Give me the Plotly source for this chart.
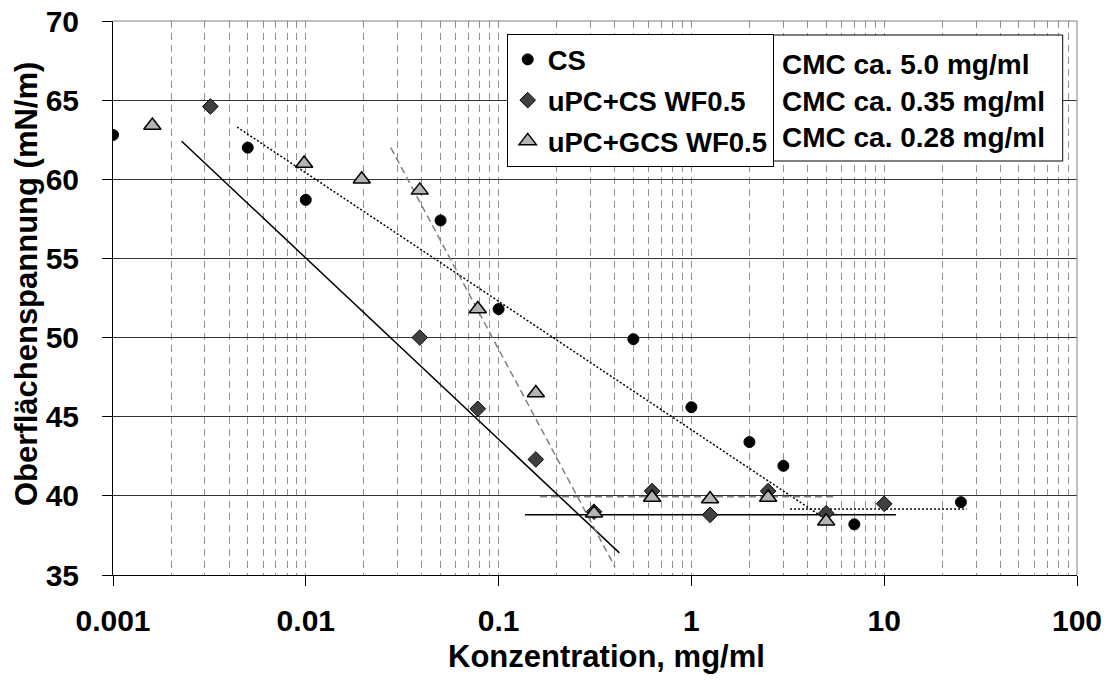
import plotly.graph_objects as go

# ---------------- data ----------------
cs_x = [0.001, 0.005, 0.01, 0.05, 0.1, 0.5, 1, 2, 3, 7, 25]
cs_y = [62.8, 62.0, 58.7, 57.4, 51.8, 49.9, 45.6, 43.4, 41.9, 38.2, 39.6]

upc_cs_x = [0.0032, 0.039, 0.078, 0.156, 0.3125, 0.625, 1.25, 2.5, 5, 10]
upc_cs_y = [64.6, 50.0, 45.5, 42.3, 39.0, 40.3, 38.8, 40.3, 38.9, 39.5]

upc_gcs_x = [0.0016, 0.0098, 0.0195, 0.039, 0.078, 0.156, 0.3125, 0.625, 1.25, 2.5, 5]
upc_gcs_y = [63.4, 61.0, 60.0, 59.3, 51.8, 46.5, 38.9, 39.9, 39.8, 39.9, 38.4]

# trend lines (fit endpoints, data units)
cs_fit_x = [0.0044, 5.45]
cs_fit_y = [63.3, 38.2]
cs_plateau_x = [3.25, 26.8]
cs_plateau_y = [39.17, 39.17]

upc_cs_fit_x = [0.00227, 0.423]
upc_cs_fit_y = [62.4, 36.4]
upc_cs_plateau_x = [0.137, 11.5]
upc_cs_plateau_y = [38.8, 38.8]

upc_gcs_fit_x = [0.0276, 0.402]
upc_gcs_fit_y = [62.0, 35.5]
upc_gcs_plateau_x = [0.164, 5.68]
upc_gcs_plateau_y = [39.95, 39.95]

series_names = ["CS", "uPC+CS WF0.5", "uPC+GCS WF0.5"]
cmc_labels = ["CMC ca. 5.0 mg/ml", "CMC ca. 0.35 mg/ml", "CMC ca. 0.28 mg/ml"]

x_major = [0.001, 0.01, 0.1, 1, 10, 100]
x_major_text = ["0.001", "0.01", "0.1", "1", "10", "100"]
x_minor = [m * d for d in [0.001, 0.01, 0.1, 1, 10] for m in range(1, 10)] + [100]
y_ticks = [35, 40, 45, 50, 55, 60, 65, 70]

x_title = "Konzentration, mg/ml"
y_title = "Oberflächenspannung (mN/m)"

# ---------------- figure ----------------
OFF = 0  # page body margin removed via post_script
W, H = 1108, 682
ML, MR, MT, MB = 113, 31, 21, 107
PW, PH = W - ML - MR, H - MT - MB

def px(xp):
    """screen x (pixels) -> paper x"""
    return (xp - OFF - ML) / PW

def py(yp):
    """screen y (pixels) -> paper y"""
    return (OFF + H - MB - yp) / PH

FONT = "Liberation Sans, Arial, sans-serif"

fig = go.Figure()

# trend lines
line_specs = [
    (cs_fit_x, cs_fit_y, dict(color="black", width=1.5, dash="2px,2px")),
    (cs_plateau_x, cs_plateau_y, dict(color="black", width=1.5, dash="2px,2px")),
    (upc_cs_fit_x, upc_cs_fit_y, dict(color="black", width=1.5)),
    (upc_cs_plateau_x, upc_cs_plateau_y, dict(color="black", width=1.5)),
    (upc_gcs_fit_x, upc_gcs_fit_y, dict(color="#808080", width=1.5, dash="7px,4px")),
    (upc_gcs_plateau_x, upc_gcs_plateau_y, dict(color="#808080", width=1.5, dash="7px,4px")),
]
for lx, ly, ls in line_specs:
    fig.add_trace(go.Scatter(x=lx, y=ly, mode="lines", line=ls,
                             showlegend=False, hoverinfo="skip"))

fig.add_trace(go.Scatter(
    x=cs_x, y=cs_y, mode="markers", name=series_names[0], legendgroup="a",
    marker=dict(symbol="circle", size=11, color="black",
                line=dict(color="black", width=1))))
fig.add_trace(go.Scatter(
    x=upc_cs_x, y=upc_cs_y, mode="markers", name=series_names[1], legendgroup="b",
    marker=dict(symbol="diamond", size=12, color="#404040",
                line=dict(color="black", width=1))))
fig.add_trace(go.Scatter(
    x=upc_gcs_x, y=upc_gcs_y, mode="markers", name=series_names[2], legendgroup="c",
    marker=dict(symbol="triangle-up", size=15, color="#b4b4b4",
                line=dict(color="black", width=1.5))))

# CMC box
fig.add_shape(type="rect", xref="paper", yref="paper",
              x0=px(770.7), x1=px(1062.7), y0=py(161), y1=py(35),
              line=dict(color="black", width=1), fillcolor="white", layer="above")
for lab, yc in zip(cmc_labels, [64.5, 101, 137.5]):
    fig.add_annotation(text=lab, xref="paper", yref="paper",
                       x=px(780), y=py(yc), xanchor="left", yanchor="middle",
                       showarrow=False,
                       font=dict(family=FONT, size=28, color="black", weight="bold"))

# top & right border (gray)
fig.add_shape(type="line", xref="paper", yref="paper", x0=0, x1=1, y0=1, y1=1,
              line=dict(color="#808080", width=1), layer="above")
fig.add_shape(type="line", xref="paper", yref="paper", x0=1, x1=1, y0=0, y1=1,
              line=dict(color="#808080", width=1), layer="above")

# axis titles
fig.add_annotation(text=x_title, xref="paper", yref="paper",
                   x=px(606.7), y=py(656), xanchor="center", yanchor="middle",
                   showarrow=False,
                   font=dict(family=FONT, size=31, color="black", weight="bold"))
fig.add_annotation(text=y_title, xref="paper", yref="paper",
                   x=px(26), y=py(284), xanchor="center", yanchor="middle",
                   textangle=-90, showarrow=False,
                   font=dict(family=FONT, size=31, color="black", weight="bold"))

fig.update_layout(
    width=W, height=H,
    margin=dict(l=ML, r=MR, t=MT, b=MB, pad=0, autoexpand=False),
    paper_bgcolor="white", plot_bgcolor="white",
    showlegend=True,
    legend=dict(x=px(506.7), y=py(34), xanchor="left", yanchor="top",
                bgcolor="white", bordercolor="black", borderwidth=1,
                font=dict(family=FONT, size=27.5, color="black", weight="bold"),
                itemwidth=30, tracegroupgap=2, itemclick=False),
)

fig.update_xaxes(
    type="log", range=[-3, 2], automargin=False,
    tickmode="array", tickvals=x_major, ticktext=x_major_text,
    ticks="outside", ticklen=10, tickcolor="black", tickwidth=1,
    showline=True, linecolor="black", linewidth=1,
    showgrid=True, gridcolor="#909090", gridwidth=1, griddash="7px,5px",
    minor=dict(tickmode="array", tickvals=x_minor, showgrid=True,
               gridcolor="#909090", gridwidth=1, griddash="7px,5px", ticks=""),
    tickfont=dict(family=FONT, size=30, color="black", weight="bold"),
    ticklabelstandoff=9, ticklabeloverflow="allow",
    zeroline=False,
)
fig.update_yaxes(
    range=[35, 70], tickmode="array", tickvals=y_ticks, automargin=False,
    ticks="outside", ticklen=10, tickcolor="black", tickwidth=1,
    showline=True, linecolor="black", linewidth=1,
    showgrid=True, gridcolor="#333333", gridwidth=1,
    tickfont=dict(family=FONT, size=30, color="black", weight="bold"),
    ticklabelstandoff=17, ticklabeloverflow="allow",
    zeroline=False,
)

fig.write_html("out.html",
               config={"displayModeBar": False},
               post_script="document.body.style.margin='0';document.body.style.overflow='hidden';")
